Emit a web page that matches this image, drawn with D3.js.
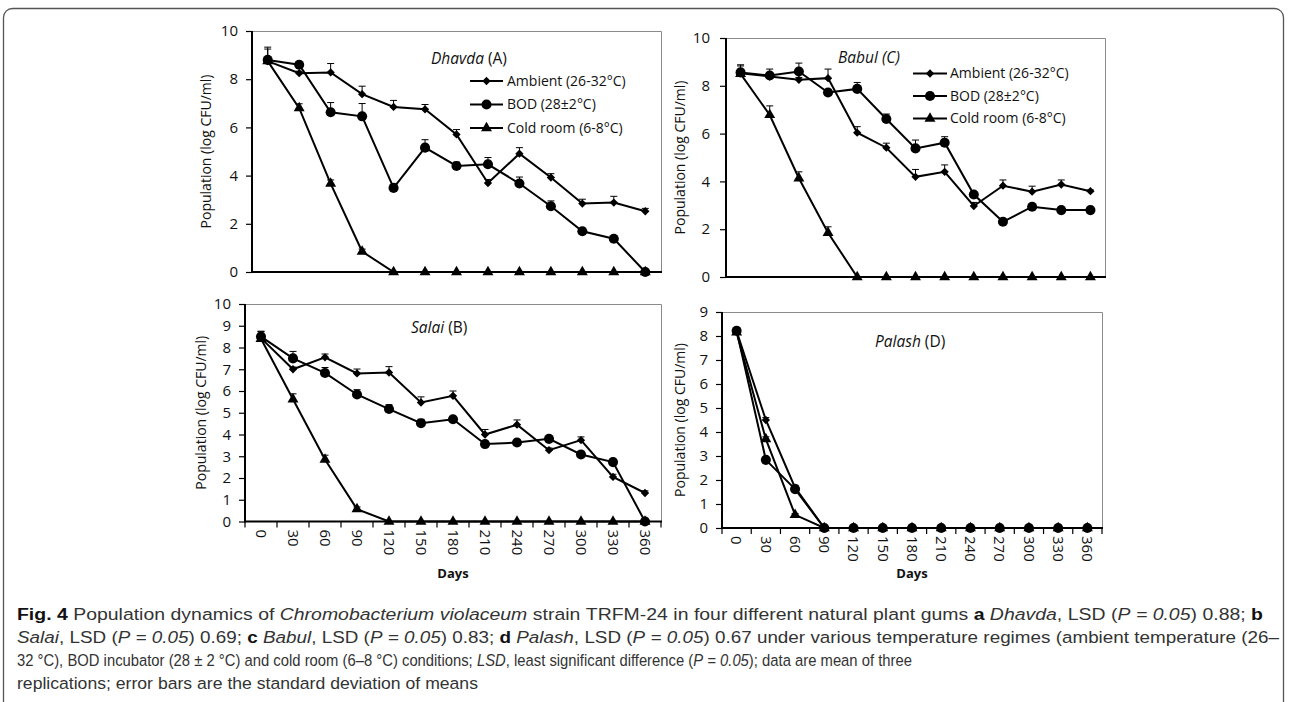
<!DOCTYPE html>
<html>
<head>
<meta charset="utf-8">
<script src="https://cdn.jsdelivr.net/npm/d3@7"></script>
<style>
  body { margin: 0; background: #fff; }
  svg { display: block; }
  .tick-label { font-family: "Open Sans", sans-serif; font-size: 15px; fill: #111; }
  .axis-title { font-family: "Open Sans", sans-serif; font-size: 14px; fill: #111; }
  .legend-text { font-family: "Open Sans", sans-serif; font-size: 14px; fill: #111; }
  .panel-title { font-family: "Open Sans", sans-serif; font-size: 15.5px; fill: #111; }
  .caption { font-family: "Liberation Sans", "Arial", sans-serif; font-size: 16.5px; fill: #333; }
</style>
</head>
<body>
<svg id="fig" width="1290" height="702"></svg>
<script>
// sampling days (x categories)
var days = [0, 30, 60, 90, 120, 150, 180, 210, 240, 270, 300, 330, 360];
var seriesNames = ['Ambient (26-32°C)', 'BOD (28±2°C)', 'Cold room (6-8°C)'];

// Dhavda (A)
var dhavdaAmbient    = [8.75, 8.25, 8.28, 7.38, 6.85, 6.75, 5.71, 3.69, 4.91, 3.92, 2.84, 2.88, 2.52];
var dhavdaAmbientErr = [0.58, 0.08, 0.37, 0.33, 0.27, 0.2, 0.2, 0.15, 0.25, 0.16, 0.18, 0.26, 0.12];
var dhavdaBod        = [8.8, 8.6, 6.63, 6.46, 3.49, 5.16, 4.4, 4.47, 3.67, 2.73, 1.69, 1.38, 0];
var dhavdaBodErr     = [0.45, 0.05, 0.4, 0.53, 0.1, 0.33, 0.16, 0.28, 0.27, 0.22, 0.1, 0.1, 0];
var dhavdaCold       = [8.75, 6.8, 3.67, 0.85, 0, 0, 0, 0, 0, 0, 0, 0, 0];
var dhavdaColdErr    = [0.15, 0.18, 0.15, 0.1, 0, 0, 0, 0, 0, 0, 0, 0, 0];

// Salai (B)
var salaiAmbient    = [8.43, 7.0, 7.55, 6.81, 6.85, 5.47, 5.78, 4.0, 4.45, 3.28, 3.74, 2.05, 1.31];
var salaiAmbientErr = [0.3, 0.1, 0.15, 0.2, 0.27, 0.26, 0.22, 0.23, 0.22, 0.1, 0.15, 0.12, 0.1];
var salaiBod        = [8.5, 7.5, 6.83, 5.84, 5.17, 4.52, 4.7, 3.56, 3.63, 3.8, 3.08, 2.73, 0];
var salaiBodErr     = [0.25, 0.32, 0.25, 0.22, 0.2, 0.18, 0.1, 0.1, 0.1, 0.1, 0.15, 0.1, 0];
var salaiCold       = [8.4, 5.62, 2.85, 0.57, 0, 0, 0, 0, 0, 0, 0, 0, 0];
var salaiColdErr    = [0.15, 0.25, 0.2, 0.1, 0, 0, 0, 0, 0, 0, 0, 0, 0];

// Babul (C)
var babulAmbient    = [8.53, 8.39, 8.25, 8.32, 6.04, 5.41, 4.19, 4.4, 2.97, 3.82, 3.57, 3.87, 3.59];
var babulAmbientErr = [0.3, 0.31, 0.1, 0.38, 0.25, 0.19, 0.31, 0.29, 0.15, 0.24, 0.23, 0.19, 0.05];
var babulBod        = [8.56, 8.43, 8.6, 7.72, 7.87, 6.61, 5.38, 5.62, 3.45, 2.31, 2.94, 2.8, 2.8];
var babulBodErr     = [0.32, 0.1, 0.35, 0.1, 0.27, 0.21, 0.35, 0.25, 0.1, 0.1, 0.1, 0.05, 0.05];
var babulCold       = [8.5, 6.78, 4.13, 1.85, 0, 0, 0, 0, 0, 0, 0, 0, 0];
var babulColdErr    = [0.15, 0.38, 0.27, 0.25, 0, 0, 0, 0, 0, 0, 0, 0, 0];

// Palash (D)
var palashAmbient    = [8.2, 4.5, 1.68, 0, 0, 0, 0, 0, 0, 0, 0, 0, 0];
var palashAmbientErr = [0.1, 0.1, 0.1, 0, 0, 0, 0, 0, 0, 0, 0, 0, 0];
var palashBod        = [8.22, 2.84, 1.62, 0, 0, 0, 0, 0, 0, 0, 0, 0, 0];
var palashBodErr     = [0.1, 0.1, 0.1, 0, 0, 0, 0, 0, 0, 0, 0, 0, 0];
var palashCold       = [8.15, 3.7, 0.55, 0, 0, 0, 0, 0, 0, 0, 0, 0, 0];
var palashColdErr    = [0.1, 0.1, 0.05, 0, 0, 0, 0, 0, 0, 0, 0, 0, 0];

var svg = d3.select('#fig');

// outer frame round the whole figure
svg.append('rect')
  .attr('x', 3.5).attr('y', 8.5)
  .attr('width', 1280).attr('height', 720)
  .attr('rx', 9)
  .attr('fill', 'none')
  .attr('stroke', '#555')
  .attr('stroke-width', 1.3);

var symbolTypes = [d3.symbolDiamond2, d3.symbolCircle, d3.symbolTriangle];
var symbolSizes = [44, 80, 52];

var panels = [
  { name: 'Dhavda', tag: ' (A)', left: 252, right: 661, top: 31, bottom: 272, yMax: 10, yStep: 2,
    labelRight: 238, yTitleX: 206, xLabels: false, titleX: 431, titleY: 64,
    legend: { x0: 470, x1: 503, tx: 507, ys: [81, 104.5, 128] },
    series: [[dhavdaAmbient, dhavdaAmbientErr], [dhavdaBod, dhavdaBodErr], [dhavdaCold, dhavdaColdErr]] },
  { name: 'Babul (C)', tag: '', left: 726, right: 1105, top: 38, bottom: 277, yMax: 10, yStep: 2,
    labelRight: 710, yTitleX: 680, xLabels: false, titleX: 838, titleY: 63,
    legend: { x0: 913, x1: 947, tx: 950, ys: [73.5, 96, 118.5] },
    series: [[babulAmbient, babulAmbientErr], [babulBod, babulBodErr], [babulCold, babulColdErr]] },
  { name: 'Salai', tag: ' (B)', left: 245, right: 661, top: 304, bottom: 521.5, yMax: 10, yStep: 1,
    labelRight: 231, yTitleX: 201, xLabels: true, titleX: 411, titleY: 333,
    legend: null,
    series: [[salaiAmbient, salaiAmbientErr], [salaiBod, salaiBodErr], [salaiCold, salaiColdErr]] },
  { name: 'Palash', tag: ' (D)', left: 722, right: 1102, top: 312, bottom: 528, yMax: 9, yStep: 1,
    labelRight: 708, yTitleX: 680, xLabels: true, titleX: 875, titleY: 347,
    legend: null,
    series: [[palashAmbient, palashAmbientErr], [palashBod, palashBodErr], [palashCold, palashColdErr]] }
];

panels.forEach(function(p) {
  var g = svg.append('g');

  var x = d3.scaleBand()
    .domain(days)
    .range([p.left, p.right]);

  var y = d3.scaleLinear()
    .domain([0, p.yMax])
    .range([p.bottom, p.top]);

  var cx = function(d) { return x(d) + x.bandwidth() / 2; };

  // plot area border (top and right, thin grey)
  g.append('path')
    .attr('d', 'M' + p.left + ',' + (p.top + 0.5) + 'H' + (p.right + 0.5) + 'V' + p.bottom)
    .attr('fill', 'none')
    .attr('stroke', '#8a8a8a')
    .attr('stroke-width', 1);

  // y axis
  var yTicks = d3.range(0, p.yMax + 0.001, p.yStep);
  var yAxis = g.append('g')
    .attr('transform', 'translate(' + p.left + ',0)')
    .call(d3.axisLeft(y).tickValues(yTicks).tickSize(6).tickFormat(''));
  yAxis.select('.domain').remove();
  yAxis.selectAll('.tick line').attr('stroke', '#000').attr('stroke-width', 1.2);
  g.append('line')
    .attr('x1', p.left).attr('x2', p.left)
    .attr('y1', p.top).attr('y2', p.bottom + 1)
    .attr('stroke', '#000').attr('stroke-width', 2);

  g.selectAll('.ylab')
    .data(yTicks)
    .enter().append('text')
    .attr('class', 'tick-label')
    .attr('x', p.labelRight)
    .attr('y', function(d) { return y(d); })
    .attr('dy', '0.35em')
    .attr('text-anchor', 'end')
    .text(function(d) { return d; });

  // y axis title
  g.append('text')
    .attr('class', 'axis-title')
    .attr('transform', 'translate(' + p.yTitleX + ',' + ((p.top + p.bottom) / 2) + ') rotate(-90)')
    .attr('text-anchor', 'middle')
    .attr('dy', '0.35em')
    .text('Population (log CFU/ml)');

  // x axis line
  g.append('line')
    .attr('x1', p.left - 1).attr('x2', p.right + 1)
    .attr('y1', p.bottom).attr('y2', p.bottom)
    .attr('stroke', '#000').attr('stroke-width', 2);

  if (p.xLabels) {
    // tick marks between categories
    var bounds = days.map(function(d) { return x(d); }).concat([p.right]);
    g.selectAll('.xtick')
      .data(bounds)
      .enter().append('line')
      .attr('x1', function(d) { return d; }).attr('x2', function(d) { return d; })
      .attr('y1', p.bottom).attr('y2', p.bottom + 6)
      .attr('stroke', '#000').attr('stroke-width', 1.2);

    g.selectAll('.xlab')
      .data(days)
      .enter().append('text')
      .attr('class', 'tick-label')
      .attr('transform', function(d) { return 'translate(' + cx(d) + ',' + (p.bottom + 8) + ') rotate(90)'; })
      .attr('dy', '0.35em')
      .text(function(d) { return d; });

    g.append('text')
      .attr('x', (p.left + p.right) / 2)
      .attr('y', 578)
      .attr('text-anchor', 'middle')
      .style('font-family', '"Open Sans", sans-serif')
      .style('font-size', '13px')
      .style('font-weight', 'bold')
      .style('fill', '#111')
      .text('Days');
  }

  // series lines, error bars and markers
  p.series.forEach(function(s, si) {
    var vals = s[0], errs = s[1];
    var pts = days.map(function(d, i) { return { day: d, v: vals[i], e: errs[i] }; });

    var line = d3.line()
      .x(function(d) { return cx(d.day); })
      .y(function(d) { return y(d.v); });

    g.append('path')
      .datum(pts)
      .attr('d', line)
      .attr('fill', 'none')
      .attr('stroke', '#000')
      .attr('stroke-width', 2);

    var eb = g.append('g');
    pts.filter(function(d) { return d.e > 0; }).forEach(function(d) {
      eb.append('line')
        .attr('x1', cx(d.day)).attr('x2', cx(d.day))
        .attr('y1', y(d.v)).attr('y2', y(d.v + d.e))
        .attr('stroke', '#000').attr('stroke-width', 1);
      eb.append('line')
        .attr('x1', cx(d.day) - 3.5).attr('x2', cx(d.day) + 3.5)
        .attr('y1', y(d.v + d.e)).attr('y2', y(d.v + d.e))
        .attr('stroke', '#000').attr('stroke-width', 1);
    });

    g.selectAll(null)
      .data(pts)
      .enter().append('path')
      .attr('transform', function(d) { return 'translate(' + cx(d.day) + ',' + y(d.v) + ')'; })
      .attr('d', d3.symbol().type(symbolTypes[si]).size(symbolSizes[si]))
      .attr('fill', '#000');
  });

  // panel title
  var t = g.append('text')
    .attr('class', 'panel-title')
    .attr('x', p.titleX)
    .attr('y', p.titleY);
  t.append('tspan').style('font-style', 'italic').text(p.name);
  if (p.tag) t.append('tspan').text(p.tag);

  // legend
  if (p.legend) {
    var L = p.legend;
    seriesNames.forEach(function(name, si) {
      var ly = L.ys[si];
      g.append('line')
        .attr('x1', L.x0).attr('x2', L.x1)
        .attr('y1', ly).attr('y2', ly)
        .attr('stroke', '#000').attr('stroke-width', 2);
      g.append('path')
        .attr('transform', 'translate(' + ((L.x0 + L.x1) / 2) + ',' + ly + ')')
        .attr('d', d3.symbol().type(symbolTypes[si]).size(symbolSizes[si]))
        .attr('fill', '#000');
      g.append('text')
        .attr('class', 'legend-text')
        .attr('x', L.tx)
        .attr('y', ly)
        .attr('dy', '0.35em')
        .text(name);
    });
  }
});

// caption (segments: text, bold, italic)
var captionLines = [
  [['Fig. 4', 1, 0], [' Population dynamics of ', 0, 0], ['Chromobacterium violaceum', 0, 1],
   [' strain TRFM-24 in four different natural plant gums ', 0, 0], ['a', 1, 0], [' ', 0, 0], ['Dhavda', 0, 1],
   [', LSD (', 0, 0], ['P = 0.05', 0, 1], [') 0.88; ', 0, 0], ['b', 1, 0]],
  [['Salai', 0, 1], [', LSD (', 0, 0], ['P = 0.05', 0, 1], [') 0.69; ', 0, 0], ['c', 1, 0], [' ', 0, 0],
   ['Babul', 0, 1], [', LSD (', 0, 0], ['P = 0.05', 0, 1], [') 0.83; ', 0, 0], ['d', 1, 0], [' ', 0, 0],
   ['Palash', 0, 1], [', LSD (', 0, 0], ['P = 0.05', 0, 1],
   [') 0.67 under various temperature regimes (ambient temperature (26–', 0, 0]],
  [['32 °C), BOD incubator (28 ± 2 °C) and cold room (6–8 °C) conditions; ', 0, 0], ['LSD', 0, 1],
   [', least significant difference (', 0, 0], ['P = 0.05', 0, 1], ['); data are mean of three', 0, 0]],
  [['replications; error bars are the standard deviation of means', 0, 0]]
];
// line extents in the reference
var captionWidths = [1246, 1262, 895, 461];
var capLeft = 17;
var capSpace = 16.5 * 0.278;

// split styled segments into words (a word may mix styles)
function toWords(segs) {
  var words = [[]];
  segs.forEach(function(s) {
    s[0].split(' ').forEach(function(part, pi) {
      if (pi > 0) words.push([]);
      if (part.length) words[words.length - 1].push([part, s[1], s[2]]);
    });
  });
  return words.filter(function(w) { return w.length; });
}

var capLayer = svg.append('g');
var capLines = captionLines.map(function(segs) {
  return toWords(segs).map(function(word) {
    var txt = capLayer.append('text').attr('class', 'caption').attr('x', 0).attr('y', 0);
    word.forEach(function(piece) {
      var ts = txt.append('tspan').text(piece[0]);
      if (piece[1]) ts.style('font-weight', 'bold').style('fill', '#111');
      if (piece[2]) ts.style('font-style', 'italic');
    });
    return { node: txt, w: txt.node().getComputedTextLength() };
  });
});

// each line squeezed horizontally to its extent (the reference uses a condensed face)
capLines.forEach(function(ws, li) {
  var natural = d3.sum(ws, function(d) { return d.w; }) + (ws.length - 1) * capSpace;
  var s = captionWidths[li] / natural;
  var gap = s * capSpace;
  var xPos = capLeft;
  var ty = 620 + li * 23;
  ws.forEach(function(d) {
    d.node.attr('transform', 'translate(' + xPos + ',' + ty + ') scale(' + s + ',1)');
    xPos += s * d.w + gap;
  });
});
</script>
</body>
</html>
